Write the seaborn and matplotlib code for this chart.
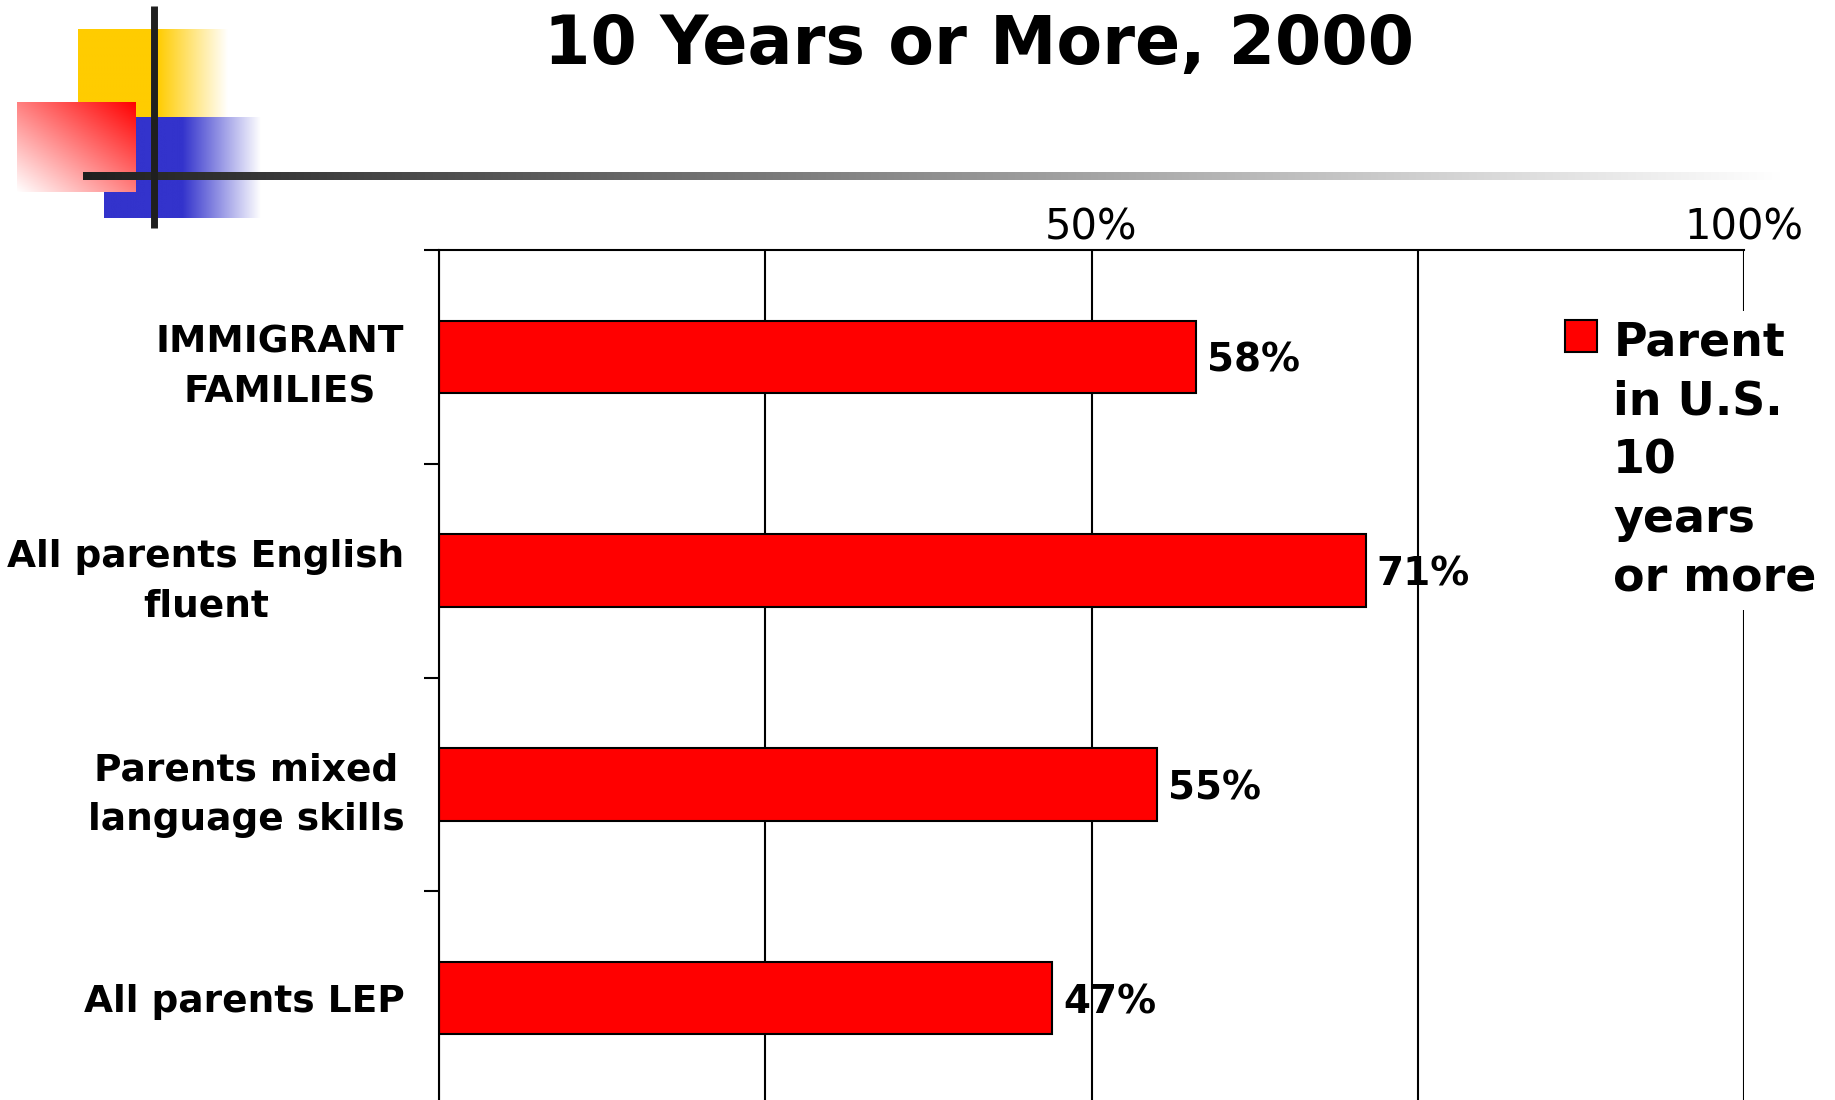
import numpy as np
import matplotlib
matplotlib.use("Agg")
import matplotlib.pyplot as plt
import seaborn as sns
from matplotlib.ticker import FixedLocator, FixedFormatter

# ---- data -------------------------------------------------------------
categories = [
    "IMMIGRANT\nFAMILIES",
    "All parents English\nfluent",
    "Parents mixed\nlanguage skills",
    "All parents LEP",
]
shares = [58, 71, 55, 47]
series_name = "Parent\nin U.S.\n10\nyears\nor more"
grid_ticks = [0, 25, 50, 75, 100]
grid_labels = ["", "", "50%", "", "100%"]
title = "10 Years or More, 2000"

# ---- style ------------------------------------------------------------
sns.set_theme(style="white")
plt.rcParams["font.family"] = ["DejaVu Sans"]

W, H = 1835, 1100
fig = plt.figure(figsize=(W / 100, H / 100), dpi=100)

# ---- slide ornament (pixel coordinates, y down) -----------------------
deco = fig.add_axes([0, 0, 1, 1], zorder=0)
deco.axis("off")


def fade_strip(rgb, x0, x_fade, x1, n=400):
    """Solid colour from x0 to x_fade, then linear fade to white at x1."""
    xs = np.linspace(x0, x1, n)
    t = np.clip((xs - x_fade) / (x1 - x_fade), 0, 1)[:, None]
    col = np.array(rgb)[None, :] * (1 - t) + np.ones(3)[None, :] * t
    return col[None, :, :]


yellow = np.array([255, 204, 0]) / 255
blue = np.array([51, 51, 204]) / 255
red = np.array([255, 0, 0]) / 255

deco.imshow(fade_strip(yellow, 78, 157, 227), extent=(78, 227, 118, 29),
            aspect="auto", zorder=1, interpolation="bilinear")
deco.imshow(fade_strip(blue, 104, 182, 260), extent=(104, 260, 218, 117),
            aspect="auto", zorder=2, interpolation="bilinear")

# red square: strong in the upper right corner, white in the lower left
u = np.linspace(0, 1, 200)[None, :]
v = np.linspace(0, 1, 200)[:, None]
t = np.clip((u + (1 - v)) / 2, 0, 1)[:, :, None]
red_img = np.ones(3)[None, None, :] * (1 - t) + red[None, None, :] * t
deco.imshow(red_img, extent=(17, 135, 192, 102), origin="upper",
            aspect="auto", zorder=3, interpolation="bilinear")

# horizontal rule fading from near-black to white
xs = np.linspace(0, 1, 600)
g = (31 + (255 - 31) * xs) / 255
rule = np.stack([g, g, g], axis=-1)[None, :, :]
deco.imshow(rule, extent=(83, 1780, 180, 172), aspect="auto", zorder=4,
            interpolation="bilinear")

# vertical bar of the cross
deco.plot([153.5, 153.5], [6, 228], color="#1f1f1f", lw=5.0,
          solid_capstyle="butt", zorder=5)

deco.set_xlim(0, W)
deco.set_ylim(H, 0)

# ---- title ------------------------------------------------------------
fig.text(979 / W, 1 - 64 / H, title, ha="center", va="baseline",
         fontsize=48, fontweight="bold", color="black")

# ---- bar chart --------------------------------------------------------
ax = fig.add_axes([439 / W, 1 - 1105 / H, 1305 / W, 855 / H], zorder=2)
ax.patch.set_alpha(0)

sns.barplot(x=shares, y=categories, orient="h", color="#FF0000",
            saturation=1, edgecolor="black", linewidth=1.5, width=0.34,
            label=series_name, ax=ax)

ax.set_xlim(0, 100)
ax.set_ylim(len(categories) - 0.5, -0.5)
ax.set_xlabel("")
ax.set_ylabel("")

# percentage scale on top, gridlines every 25 %
ax.xaxis.tick_top()
ax.xaxis.set_major_locator(FixedLocator(grid_ticks))
ax.xaxis.set_major_formatter(FixedFormatter(grid_labels))
ax.tick_params(axis="x", which="major", top=True, bottom=False, length=0,
               pad=1, labelsize=30, labelcolor="black")
ax.grid(True, axis="x", color="black", linewidth=1.5)
ax.grid(False, axis="y")
ax.set_axisbelow(True)

# category labels, with tick marks between categories
ax.yaxis.set_minor_locator(
    FixedLocator(np.arange(-0.5, len(categories), 1.0)))
ax.tick_params(axis="y", which="major", left=True, length=0, pad=25,
               labelsize=27, labelcolor="black")
ax.tick_params(axis="y", which="minor", left=True, length=11, width=1.5,
               color="black", direction="out")
for lbl in ax.get_yticklabels():
    lbl.set_fontweight("bold")
    lbl.set_multialignment("center")
    lbl.set_linespacing(1.5)

for side in ("right", "bottom"):
    ax.spines[side].set_visible(False)
for side in ("top", "left"):
    ax.spines[side].set_visible(True)
    ax.spines[side].set_color("black")
    ax.spines[side].set_linewidth(1.5)

# value labels
value_texts = ax.bar_label(ax.containers[0],
                           labels=[f"{v}%" for v in shares],
                           padding=8, fontsize=28, fontweight="bold",
                           color="black")
for txt in value_texts:
    txt.set_verticalalignment("center_baseline")

# legend
handles, labels = ax.get_legend_handles_labels()
leg = ax.legend(handles[:1], labels[:1], loc="upper left",
                bbox_to_anchor=(1556 / W, 1 - 311 / H),
                bbox_transform=fig.transFigure, frameon=True,
                facecolor="white", edgecolor="none", framealpha=1,
                fancybox=False, prop=dict(weight="bold", size=33),
                handlelength=0.7, handleheight=0.7, handletextpad=0.35,
                borderpad=0.2, borderaxespad=0)
for txt in leg.get_texts():
    txt.set_linespacing(1.4)
    txt.set_color("black")
# keep the swatch level with the first line of the label
for col in leg._legend_handle_box.get_children():
    for row in col.get_children():
        row.align = "top"

fig.savefig("out.png", dpi=100, facecolor="white")
